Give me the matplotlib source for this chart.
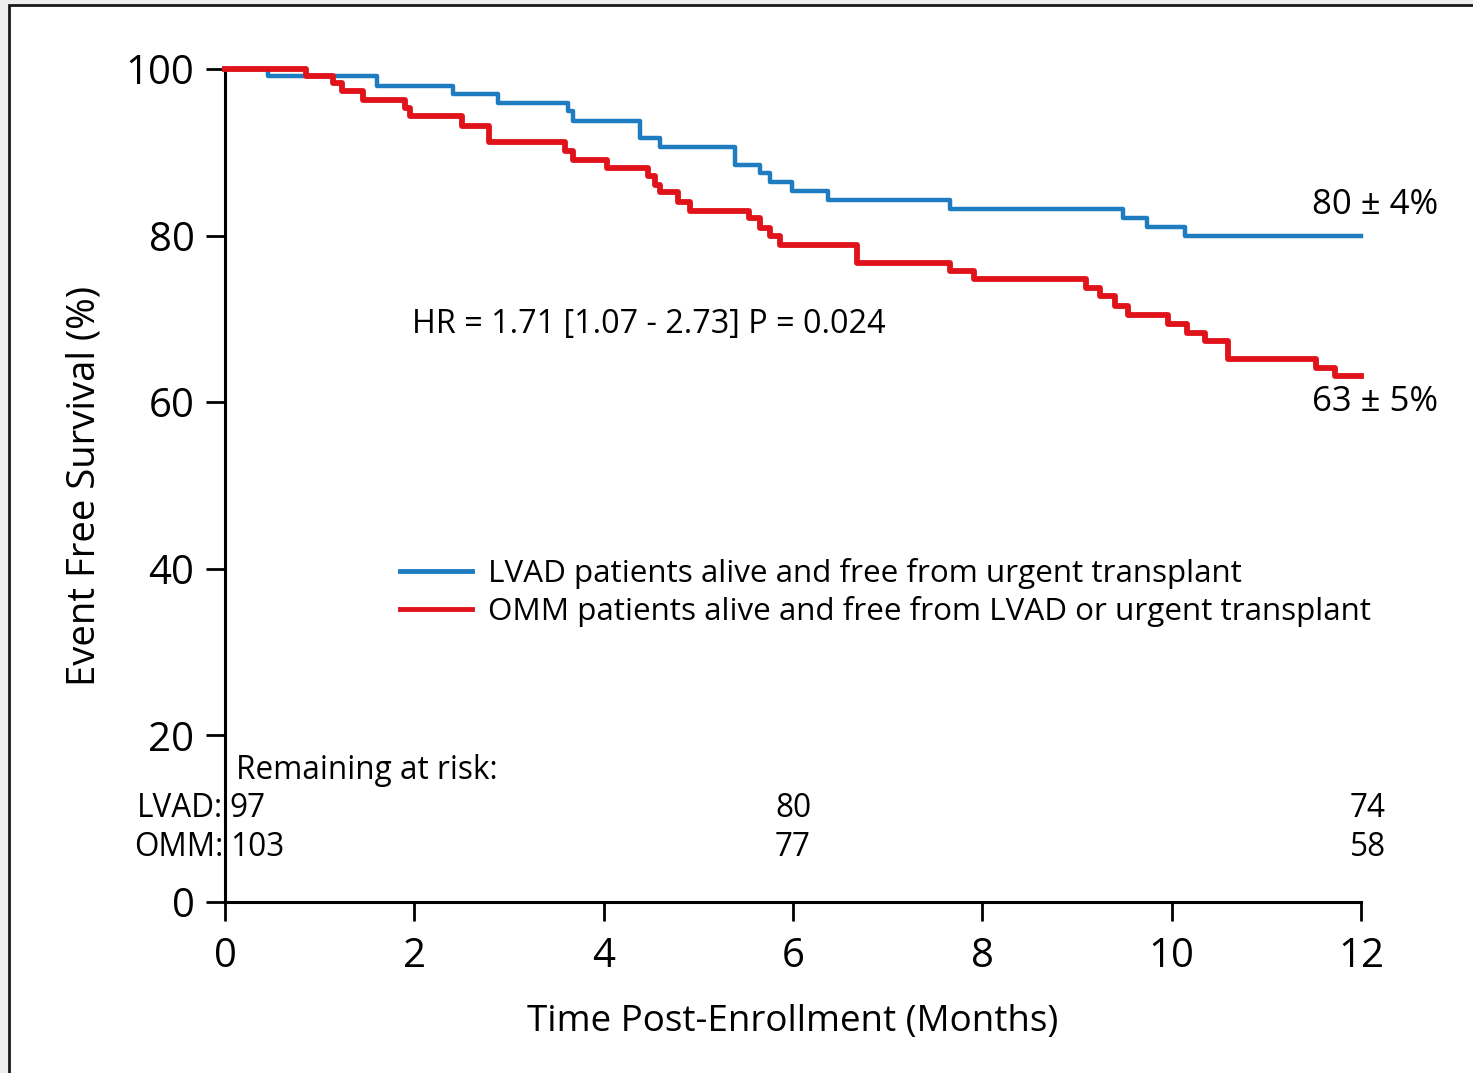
import matplotlib
matplotlib.use("Agg")
import matplotlib.pyplot as plt
from matplotlib.patches import Rectangle

plt.rcParams['font.family'] = ['Open Sans', 'DejaVu Sans']

# ---- data ----
lvad_months = [0, 0.45, 1.61, 2.41, 2.88, 3.62, 3.68, 4.38, 4.59, 5.39,
               5.65, 5.76, 5.99, 6.37, 7.66, 9.49, 9.74, 10.14, 12.0]
lvad_surv = [100, 99.1, 98.0, 97.0, 95.9, 94.9, 93.8, 91.7, 90.6, 88.5,
             87.5, 86.4, 85.4, 84.3, 83.2, 82.1, 81.0, 80.0, 80.0]

omm_months = [0, 0.86, 1.14, 1.24, 1.46, 1.90, 1.95, 2.50, 2.79, 3.59,
              3.68, 4.03, 4.47, 4.54, 4.60, 4.79, 4.91, 5.54, 5.65, 5.76,
              5.86, 6.68, 7.66, 7.91, 9.10, 9.24, 9.40, 9.54, 9.96, 10.16,
              10.35, 10.59, 11.52, 11.73, 12.0]
omm_surv = [100, 99.1, 98.3, 97.3, 96.3, 95.3, 94.3, 93.2, 91.2, 90.1,
            89.1, 88.1, 87.1, 86.1, 85.2, 84.0, 83.0, 82.1, 80.9, 79.9,
            78.9, 76.7, 75.8, 74.8, 73.7, 72.7, 71.5, 70.5, 69.4, 68.3,
            67.3, 65.2, 64.1, 63.1, 63.1]

risk_months = [0, 6, 12]
lvad_risk = [97, 80, 74]
omm_risk = [103, 77, 58]

lvad_label = "LVAD patients alive and free from urgent transplant"
omm_label = "OMM patients alive and free from LVAD or urgent transplant"

# ---- figure ----
fig = plt.figure(figsize=(14.73, 10.73), dpi=100)
fig.patch.set_facecolor('#eeeeee')
fig.patches.append(Rectangle((9 / 1473, -0.05), 1.2, 1.05 - 5 / 1073,
                             transform=fig.transFigure, facecolor='white',
                             edgecolor='#1a1a1a', lw=2, zorder=-10))

ax = fig.add_axes([225 / 1473, 1 - 902 / 1073, 1136 / 1473, 833 / 1073])
ax.set_facecolor('none')

blue = '#1f7cc0'
red = '#e0131b'

ax.step(lvad_months, lvad_surv, where='post', color=blue, lw=3.2,
        label=lvad_label, clip_on=False, zorder=3)
ax.step(omm_months, omm_surv, where='post', color=red, lw=4.2,
        label=omm_label, clip_on=False, zorder=4)

ax.set_xlim(0, 12)
ax.set_ylim(0, 100)
ax.set_xticks(range(0, 13, 2))
ax.set_yticks(range(0, 101, 20))

for s in ['top', 'right']:
    ax.spines[s].set_visible(False)
for s in ['left', 'bottom']:
    ax.spines[s].set_linewidth(2.2)
ax.tick_params(direction='out', length=14, width=2, labelsize=29, pad=8)
ax.tick_params(axis='x', pad=11)

ax.set_xlabel("Time Post-Enrollment (Months)", fontsize=26.5, labelpad=19)
ax.set_ylabel("Event Free Survival (%)", fontsize=27.5, labelpad=16)

# ---- annotations ----
ax.text(12.15, 83.7, "80 ± 4%", fontsize=25, ha='center', va='center')
ax.text(12.15, 60.0, "63 ± 5%", fontsize=25, ha='center', va='center')
ax.text(1.98, 69.3, "HR = 1.71 [1.07 - 2.73] P = 0.024", fontsize=23.3,
        ha='left', va='center')

leg = ax.legend(loc='center left', bbox_to_anchor=(0.154, 0.372),
                frameon=False, fontsize=22.6, handlelength=2.3,
                handletextpad=0.5, labelspacing=0.22, borderpad=0,
                borderaxespad=0)
for line in leg.get_lines():
    line.set_linewidth(3.5)

# ---- risk table ----
fs = 22.7
ax.text(0.12, 15.8, "Remaining at risk:", fontsize=fs, ha='left', va='center')
ax.text(-0.02, 11.2, "LVAD:", fontsize=fs, ha='right', va='center', clip_on=False)
ax.text(-0.02, 6.5, "OMM:", fontsize=fs, ha='right', va='center', clip_on=False)
for i, m in enumerate(risk_months):
    if m == 0:
        xpos, ha = 0.05, 'left'
    elif m == 12:
        xpos, ha = 12.07, 'center'
    else:
        xpos, ha = m, 'center'
    ax.text(xpos, 11.2, str(lvad_risk[i]), fontsize=fs, ha=ha, va='center')
    ax.text(xpos, 6.5, str(omm_risk[i]), fontsize=fs, ha=ha, va='center')

fig.savefig("out.png", dpi=100, facecolor=fig.get_facecolor())
